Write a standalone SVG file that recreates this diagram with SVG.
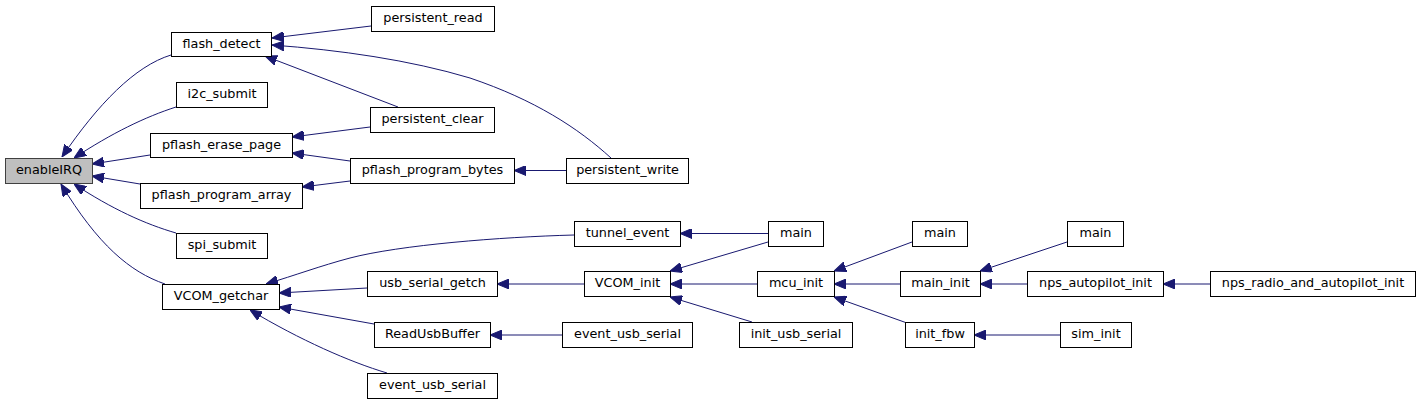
<svg xmlns="http://www.w3.org/2000/svg" width="1420" height="404" viewBox="0 0 1420 404">
<style>
.n rect{fill:#ffffff;stroke:#000000;stroke-width:1}
.n.root rect{fill:#bfbfbf;stroke:#404040}
.n text{font-family:"DejaVu Sans",sans-serif;font-size:12.8px;text-anchor:middle;fill:#000000}
#edges path{fill:none;stroke:#191970;stroke-width:1;marker-end:url(#ah)}
</style>
<defs>
<marker id="ah" markerUnits="userSpaceOnUse" markerWidth="12" markerHeight="10" viewBox="0 0 12 10" refX="12" refY="5" orient="auto">
<path d="M0,0 L12,5 L0,10 z" fill="#191970" stroke="#191970" stroke-width="1"/>
</marker>
</defs>
<rect width="1420" height="404" fill="#ffffff"/>
<g id="edges">
<path d="M171,55 C135,66 98,104 62,157"/>
<path d="M176,107 C145,117 112,133 74,158"/>
<path d="M150,155 L92,164"/>
<path d="M140,184 L92,176"/>
<path d="M176,233 C145,224 112,209 74,184"/>
<path d="M165,284 C130,272 98,245 61,184"/>
<path d="M371,26 L272,38"/>
<path d="M611,158 C578,128 535,100 470,78 C410,60 340,50 272,45"/>
<path d="M398,107 L265,56"/>
<path d="M370,127 L292,137"/>
<path d="M350,161 L292,153"/>
<path d="M350,181 L302,187"/>
<path d="M566,170.5 L514,170.5"/>
<path d="M574,235 C500,237 400,245 350,258 C320,266 296,275 266,284"/>
<path d="M367,288 L279,293"/>
<path d="M374,324 L279,307"/>
<path d="M387,373 C350,362 300,340 250,310"/>
<path d="M584,284 L497,284"/>
<path d="M562,335 L490,335"/>
<path d="M768,233.5 L680,233.5"/>
<path d="M768,242 L670,271"/>
<path d="M757,284 L670,284"/>
<path d="M752,322 L670,297"/>
<path d="M912,242 L834,271"/>
<path d="M900,284 L834,284"/>
<path d="M907,323 L834,297"/>
<path d="M1067,242 L980,271"/>
<path d="M1027,284 L980,284"/>
<path d="M1060,335 L974,335"/>
<path d="M1210,284 L1163,284"/>
</g>
<g id="enableIRQ" class="n root"><rect x="5.5" y="158.5" width="87" height="25"/><text x="49" y="174">enableIRQ</text></g>
<g id="flash_detect" class="n"><rect x="171.5" y="32.5" width="100" height="24"/><text x="221.5" y="47.5">flash_detect</text></g>
<g id="i2c_submit" class="n"><rect x="176.5" y="82.5" width="91" height="25"/><text x="222" y="98">i2c_submit</text></g>
<g id="pflash_erase_page" class="n"><rect x="150.5" y="133.5" width="142" height="24"/><text x="221.5" y="148.5">pflash_erase_page</text></g>
<g id="pflash_program_array" class="n"><rect x="140.5" y="183.5" width="162" height="25"/><text x="221.5" y="199">pflash_program_array</text></g>
<g id="spi_submit" class="n"><rect x="176.5" y="233.5" width="91" height="25"/><text x="222" y="249">spi_submit</text></g>
<g id="VCOM_getchar" class="n"><rect x="162.5" y="284.5" width="117" height="25"/><text x="221" y="300">VCOM_getchar</text></g>
<g id="persistent_read" class="n"><rect x="371.5" y="6.5" width="123" height="25"/><text x="433" y="22">persistent_read</text></g>
<g id="persistent_clear" class="n"><rect x="370.5" y="107.5" width="124" height="25"/><text x="432.5" y="123">persistent_clear</text></g>
<g id="pflash_program_bytes" class="n"><rect x="350.5" y="158.5" width="164" height="25"/><text x="432.5" y="174">pflash_program_bytes</text></g>
<g id="persistent_write" class="n"><rect x="566.5" y="158.5" width="122" height="25"/><text x="627.5" y="174">persistent_write</text></g>
<g id="tunnel_event" class="n"><rect x="574.5" y="221.5" width="106" height="25"/><text x="627.5" y="237">tunnel_event</text></g>
<g id="usb_serial_getch" class="n"><rect x="367.5" y="271.5" width="130" height="25"/><text x="432.5" y="287">usb_serial_getch</text></g>
<g id="VCOM_init" class="n"><rect x="584.5" y="271.5" width="86" height="25"/><text x="627.5" y="287">VCOM_init</text></g>
<g id="ReadUsbBuffer" class="n"><rect x="374.5" y="322.5" width="116" height="25"/><text x="432.5" y="338">ReadUsbBuffer</text></g>
<g id="event_usb_serial_1" class="n"><rect x="562.5" y="322.5" width="130" height="25"/><text x="627.5" y="338">event_usb_serial</text></g>
<g id="event_usb_serial_2" class="n"><rect x="367.5" y="373.5" width="130" height="25"/><text x="432.5" y="389">event_usb_serial</text></g>
<g id="main_1" class="n"><rect x="768.5" y="221.5" width="55" height="25"/><text x="796" y="237">main</text></g>
<g id="mcu_init" class="n"><rect x="757.5" y="271.5" width="77" height="25"/><text x="796" y="287">mcu_init</text></g>
<g id="init_usb_serial" class="n"><rect x="739.5" y="322.5" width="113" height="25"/><text x="796" y="338">init_usb_serial</text></g>
<g id="main_2" class="n"><rect x="912.5" y="221.5" width="55" height="25"/><text x="940" y="237">main</text></g>
<g id="main_init" class="n"><rect x="900.5" y="271.5" width="80" height="25"/><text x="940.5" y="287">main_init</text></g>
<g id="init_fbw" class="n"><rect x="905.5" y="322.5" width="69" height="25"/><text x="940" y="338">init_fbw</text></g>
<g id="main_3" class="n"><rect x="1067.5" y="221.5" width="56" height="25"/><text x="1095.5" y="237">main</text></g>
<g id="nps_autopilot_init" class="n"><rect x="1027.5" y="271.5" width="136" height="25"/><text x="1095.5" y="287">nps_autopilot_init</text></g>
<g id="sim_init" class="n"><rect x="1060.5" y="322.5" width="71" height="25"/><text x="1096" y="338">sim_init</text></g>
<g id="nps_radio_and_autopilot_init" class="n"><rect x="1210.5" y="271.5" width="205" height="25"/><text x="1313" y="287">nps_radio_and_autopilot_init</text></g>
</svg>
